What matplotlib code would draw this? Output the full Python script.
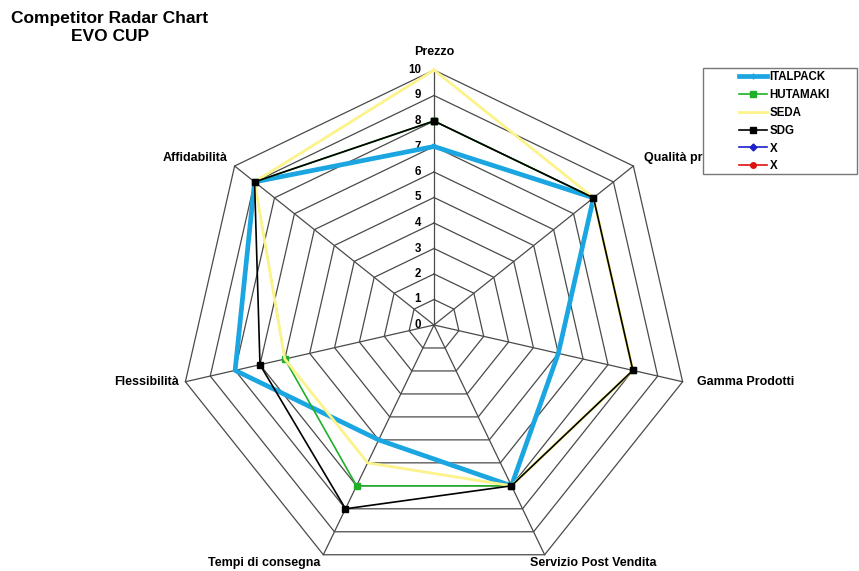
import numpy as np
import matplotlib
matplotlib.use("Agg")
import matplotlib.pyplot as plt
from matplotlib.patches import Rectangle
from matplotlib.lines import Line2D

plt.rcParams['font.family'] = ['Liberation Sans', 'DejaVu Sans']

# ---- data ----
categories = ["Prezzo", "Qualità prodotto", "Gamma Prodotti", "Servizio Post Vendita",
              "Tempi di consegna", "Flessibilità", "Affidabilità"]
italpack = [7, 8, 5, 7, 5, 8, 9]
hutamaki = [8, 8, 8, 7, 7, 6, 9]
seda = [10, 8, 8, 7, 6, 6, 9]
sdg = [8, 8, 8, 7, 8, 7, 9]
levels = list(range(0, 11))
series_names = ["ITALPACK", "HUTAMAKI", "SEDA", "SDG", "X", "X"]

W, H = 859, 571
fig = plt.figure(figsize=(W / 100, H / 100), dpi=100)
ax = fig.add_axes([0, 0, 1, 1])
cx, cy, scale = 434, 325, 25.5
ax.set_xlim(-cx / scale, (W - cx) / scale)
ax.set_ylim(-(H - cy) / scale, cy / scale)
ax.axis('off')

n = len(categories)
ang = np.pi / 2 - np.arange(n) * 2 * np.pi / n


def xy(vals):
    v = np.asarray(vals, dtype=float)
    x = v * np.cos(ang)
    y = v * np.sin(ang)
    return np.append(x, x[0]), np.append(y, y[0])


gcol = '#4a4a4a'
for lv in levels[1:]:
    gx, gy = xy([lv] * n)
    ax.plot(gx, gy, color=gcol, lw=0.9, zorder=1)
rmax = levels[-1]
for a in ang:
    ax.plot([0, rmax * np.cos(a)], [0, rmax * np.sin(a)], color=gcol, lw=0.9, zorder=1)

for lv in levels:
    ax.text(-13 / scale, lv, str(lv), ha='right', va='center', fontsize=8.3, fontweight='bold')

# category labels (offsets in pixels from outer vertex)
lab_off = [(0, 18, 'center'), (11, 8, 'left'), (14, 0, 'left'), (-15, -8, 'left'),
           (-3, -8, 'right'), (-7, 0, 'right'), (-7, 8, 'right')]
for c, a, (dx, dy, ha) in zip(categories, ang, lab_off):
    ax.text(rmax * np.cos(a) + dx / scale, rmax * np.sin(a) + dy / scale, c,
            ha=ha, va='center', fontsize=9, fontweight='bold', zorder=3)

blue = '#1BA6E1'
green = '#1FB02A'
yellow = '#FCF38A'

x, y = xy(italpack)
ax.plot(x, y, color=blue, lw=3.4, zorder=4)
x, y = xy(hutamaki)
ax.plot(x, y, color=green, lw=1.2, marker='s', ms=5, zorder=5)
x, y = xy(seda)
ax.plot(x, y, color=yellow, lw=2.0, zorder=6)
x, y = xy(sdg)
ax.plot(x, y, color='black', lw=1.2, marker='s', ms=4, zorder=7)

fig.text(110 / W, 1 - 27.5 / H, "Competitor Radar Chart\nEVO CUP", ha='center', va='center',
         fontsize=12.5, fontweight='bold', linespacing=1.27)

# legend box
fig.add_artist(Rectangle((703 / W, 1 - 174 / H), (857 - 703) / W, (174 - 68) / H,
                         transform=fig.transFigure, facecolor='white', edgecolor='#777777',
                         lw=1.0, zorder=8))
handles = [
    Line2D([], [], color=blue, lw=3.4, marker='+', ms=4, mec=blue),
    Line2D([], [], color=green, lw=1.2, marker='s', ms=5),
    Line2D([], [], color=yellow, lw=2.0),
    Line2D([], [], color='black', lw=1.2, marker='s', ms=4),
    Line2D([], [], color='#1F1FCC', lw=1.2, marker='D', ms=3.5),
    Line2D([], [], color='#E01010', lw=1.2, marker='o', ms=4),
]
leg = fig.legend(handles, series_names, loc='upper left', bbox_to_anchor=(736 / W, 1 - 68 / H),
                 frameon=False, prop={'weight': 'bold', 'size': 8.3}, handlelength=2.4,
                 handletextpad=0.2, labelspacing=0.5, borderpad=0.3, borderaxespad=0,
                 markerscale=1.0)
leg.set_zorder(9)

fig.savefig("out.png", dpi=100)
